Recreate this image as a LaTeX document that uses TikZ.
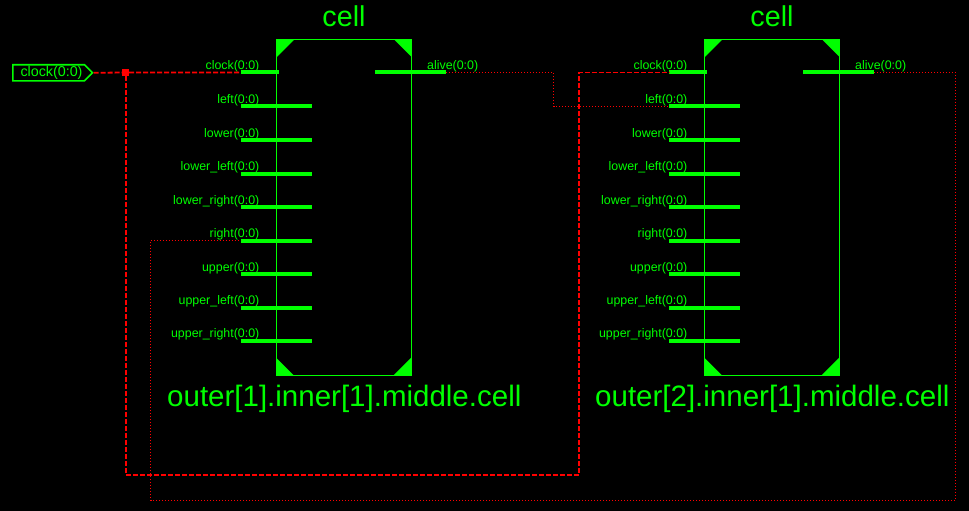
\documentclass[tikz,border=0pt]{standalone}
\usepackage{fontspec}
\setmainfont{Liberation Sans}
\usetikzlibrary{calc,shapes.symbols}
\definecolor{schemgreen}{RGB}{0,255,0}
\definecolor{schemred}{RGB}{255,0,0}
\tikzset{
    cell box/.style={draw=schemgreen,line width=1pt,minimum width=134.5pt,minimum height=335.5pt,inner sep=0pt,outer sep=0pt},
    corner/.style={fill=schemgreen},
    stub/.style={draw=schemgreen,line width=4pt},
    port label/.style={text=schemgreen,font=\fontsize{12.4}{14}\selectfont,inner sep=0pt},
    title label/.style={text=schemgreen,font=\fontsize{28.7}{32}\selectfont,inner sep=0pt},
    inst label/.style={text=schemgreen,font=\fontsize{29.5}{32}\selectfont,inner sep=0pt},
    clock port/.style={draw=schemgreen,line width=1.6pt,shape=signal,signal to=east,signal pointer angle=90,minimum width=79.7pt,minimum height=16pt,inner sep=0pt},
    clock text/.style={text=schemgreen,font=\fontsize{14.3}{16}\selectfont,inner sep=0pt},
    junction dot/.style={fill=schemred,minimum size=7pt,inner sep=0pt,outer sep=0pt},
    clock wire/.style={draw=schemred,line width=1.8pt,dash pattern=on 5pt off 2pt},
    data wire/.style={draw=schemred,line width=1.2pt,dash pattern=on 1.2pt off 1.8pt},
}

\begin{document}
\begin{tikzpicture}[x=1pt,y=-1pt]
    \fill[black,use as bounding box] (0,0) rectangle (969,511);

    \foreach \c/\dx in {1/0,2/428} {
        \begin{scope}[xshift=\dx pt]
            \node[cell box] (cell\c) at (344.2,207.7) {};
            \fill[corner] (cell\c.north west) -- +(17,0) -- +(0,17) -- cycle;
            \fill[corner] (cell\c.north east) -- +(-17,0) -- +(0,17) -- cycle;
            \fill[corner] (cell\c.south west) -- +(17,0) -- +(0,-17) -- cycle;
            \fill[corner] (cell\c.south east) -- +(-18,0) -- +(0,-18) -- cycle;
            \node[title label,anchor=base] (title\c) at (344,27) {cell};
            \node[inst label,anchor=base west] (inst\c) at (167,406.5) {outer[\c].inner[1].middle.cell};

            % ports on the left side
            \foreach \p/\py in {left/106.3,lower/140,lower_left/173.7,lower_right/207,right/240.5,upper/274,upper_left/307.7,upper_right/340.7} {
                \coordinate (c\c\p) at (241,\py);
                \coordinate (c\c\p end) at (312,\py);
                \draw[stub] (c\c\p) -- (c\c\p end);
                \node[port label,anchor=base east] (c\c\p label) at (259.5,\py-3) {\detokenize\expandafter{\p}(0:0)};
            }
            \coordinate (c\c clock) at (241,72.5);
            \coordinate (c\c clock end) at (279,72.5);
            \draw[stub] (c\c clock) -- (c\c clock end);
            \node[port label,anchor=base east] (c\c clock label) at (259.5,70) {clock(0:0)};
            \coordinate (c\c alive start) at (375,72.5);
            \coordinate (c\c alive) at (446,72.5);
            \draw[stub] (c\c alive start) -- (c\c alive);
            \node[port label,anchor=base west] (c\c alive label) at (427,70) {alive(0:0)};
        \end{scope}
    }

    \node[clock port,anchor=west] (clk) at (12,72.8) {};
    \node[clock text] (clktext) at (51.5,72.8) {clock(0:0)};
    \node[junction dot] (clkjoin) at (125.7,72.5) {};
    \coordinate (clkturn) at (579,474.7);
    \coordinate (aliveturn) at (553.5,72.5);
    \coordinate (rightturn) at (955.5,72.5);
    \coordinate (rightbottom) at (150.5,500.5);

    \draw[clock wire] (clk.east) -- (clkjoin) -- (c1clock);
    \draw[clock wire] (clkjoin) |- (clkturn) |- (c2clock);
    \draw[data wire] (c1alive) -- (aliveturn) |- (c2left);
    \draw[data wire] (c2alive) -- (rightturn) |- (rightbottom) |- (c1right);
\end{tikzpicture}
\end{document}
